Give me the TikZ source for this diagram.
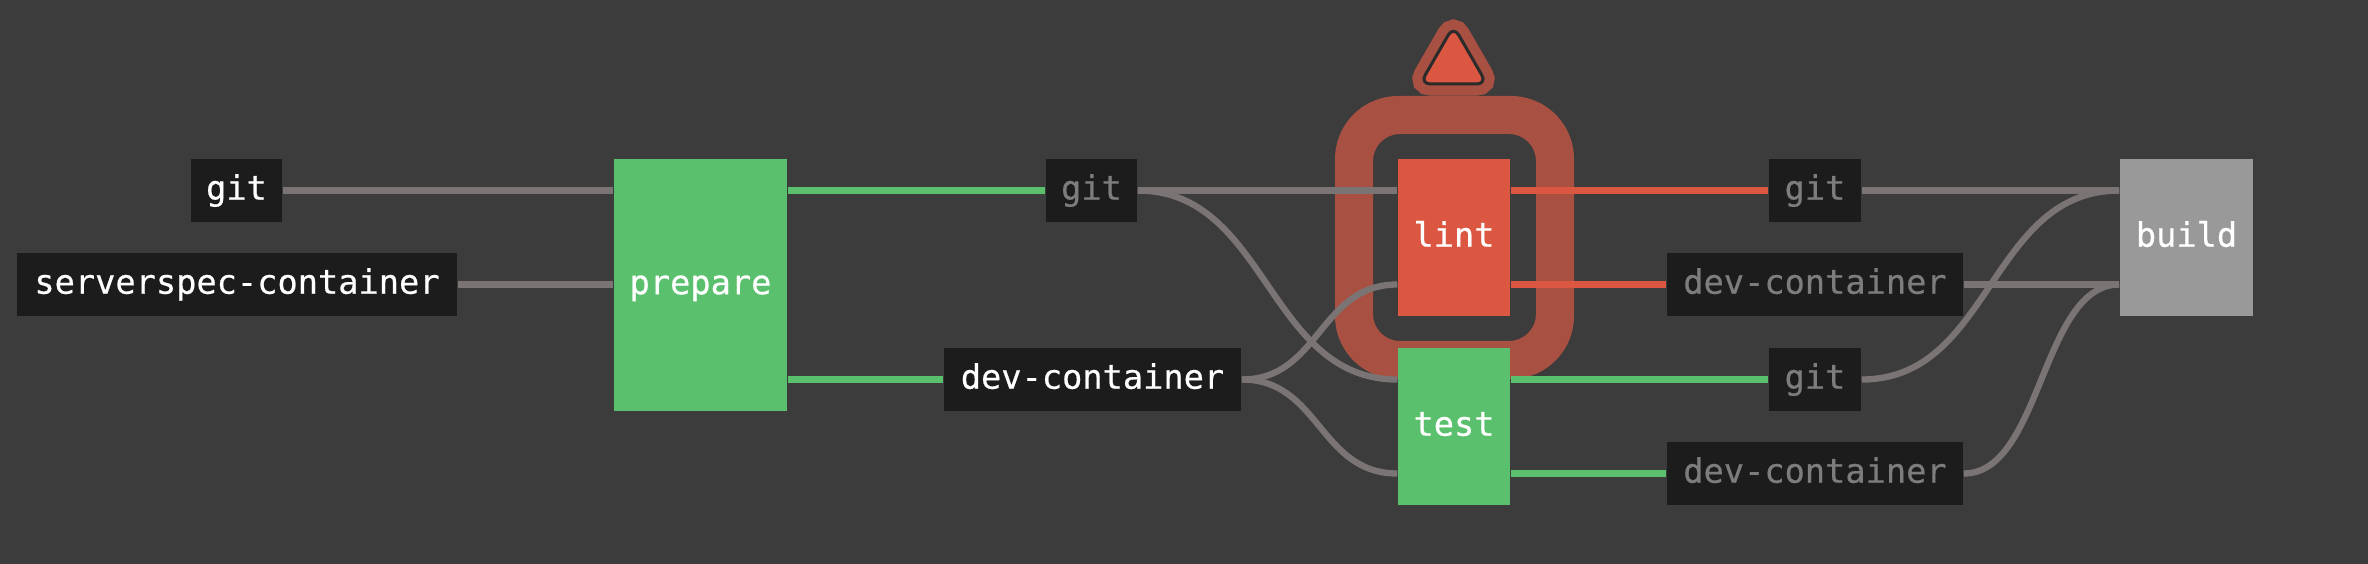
\documentclass[tikz,border=0pt]{standalone}
\usepackage{fontspec}
\usepackage{xcolor}
\usetikzlibrary{calc}
\newfontfamily\jobfont[FakeBold=0.5]{DejaVu Sans Mono}
\definecolor{bgdark}{HTML}{3C3C3C}
\definecolor{boxdark}{HTML}{1C1C1C}
\definecolor{edgegray}{HTML}{7A7574}
\definecolor{dimtext}{HTML}{7D7D7D}
\definecolor{okgreen}{HTML}{5BC06D}
\definecolor{failred}{HTML}{DB5741}
\definecolor{failhalo}{HTML}{A85042}
\definecolor{skipgray}{HTML}{999999}
\definecolor{warnline}{HTML}{2B2B2B}
\tikzset{
	label/.style={inner sep=0pt,text height=0.3cm,text depth=0.116cm,text=white,
		font={\jobfont\fontsize{9.57}{12}\selectfont}},
	res/.style={label,fill=boxdark,minimum height=0.63cm},
	resdim/.style={res,text=dimtext},
	job/.style={label,minimum width=1.12cm,minimum height=1.57cm},
	edge/.style={line width=0.063cm,edgegray},
	edgeok/.style={line width=0.063cm,okgreen},
	edgefail/.style={line width=0.063cm,failred}
}

\begin{document}
\begin{tikzpicture}[x=0.01cm,y=-0.01cm]
	\useasboundingbox (0,0) rectangle (2368,564);
	\fill[bgdark] (0,0) rectangle (2368,564);

	% halo round the failed job
	\fill[failhalo,even odd rule]
		[rounded corners=0.63cm] (1335,96) rectangle (1574,379)
		[rounded corners=0.27cm] (1373,134) rectangle (1536,341);
	\coordinate (T) at (1453.5,26);
	\coordinate (L) at (1420,84);
	\coordinate (R) at (1487,84);
	\draw[failhalo,fill=failhalo,line width=0.23cm,rounded corners=0.104cm] (T) -- (L) -- (R) -- cycle;
	\draw[warnline,fill=failred,line width=0.03cm,rounded corners=0.104cm] (T) -- (L) -- (R) -- cycle;

	\node[res,minimum width=0.91cm] (gitA) at (236.5,190.5) {git};
	\node[res,minimum width=4.40cm] (serverspec) at (237,284.5) {serverspec-container};
	\node[job,fill=okgreen,minimum width=1.73cm,minimum height=2.52cm] (prepare) at (700.5,285) {prepare};

	\node[resdim,minimum width=0.91cm] (gitB) at (1091.5,190.5) {git};
	\node[res,minimum width=2.97cm] (devB) at (1092.5,379.5) {dev-container};

	\node[job,fill=failred] (lint) at (1454,237.5) {lint};
	\node[job,fill=okgreen] (test) at (1454,426.5) {test};

	\node[resdim,minimum width=0.92cm] (gitC) at (1815,190.5) {git};
	\node[resdim,minimum width=2.96cm] (devC) at (1815,284.5) {dev-container};
	\node[resdim,minimum width=0.92cm] (gitD) at (1815,379.5) {git};
	\node[resdim,minimum width=2.96cm] (devD) at (1815,473.5) {dev-container};

	\node[job,fill=skipgray,minimum width=1.33cm] (build) at (2186.5,237.5) {build};

	\draw[edge] (gitA) -- (prepare.west |- gitA);
	\draw[edge] (serverspec) -- (prepare.west |- serverspec);
	\draw[edgeok] (prepare.east |- gitB) -- (gitB);
	\draw[edgeok] (prepare.east |- devB) -- (devB);

	\draw[edge] (gitB) -- (lint.west |- gitB);
	\draw[edge] (gitB.east) .. controls +(130,0) and +(-130,0) .. (test.west |- devB);
	\draw[edge] (devB.east) .. controls +(78,0) and +(-78,0) .. (lint.west |- serverspec);
	\draw[edge] (devB.east) .. controls +(78,0) and +(-78,0) .. (test.west |- devD);

	\draw[edgefail] (lint.east |- gitC) -- (gitC);
	\draw[edgefail] (lint.east |- devC) -- (devC);
	\draw[edgeok] (test.east |- gitD) -- (gitD);
	\draw[edgeok] (test.east |- devD) -- (devD);

	\draw[edge] (gitC) -- (build.west |- gitC);
	\draw[edge] (devC) -- (build.west |- devC);
	\draw[edge] (gitD.east) .. controls +(130,0) and +(-130,0) .. (build.west |- gitC);
	\draw[edge] (devD.east) .. controls +(78,0) and +(-78,0) .. (build.west |- devC);
\end{tikzpicture}
\end{document}
